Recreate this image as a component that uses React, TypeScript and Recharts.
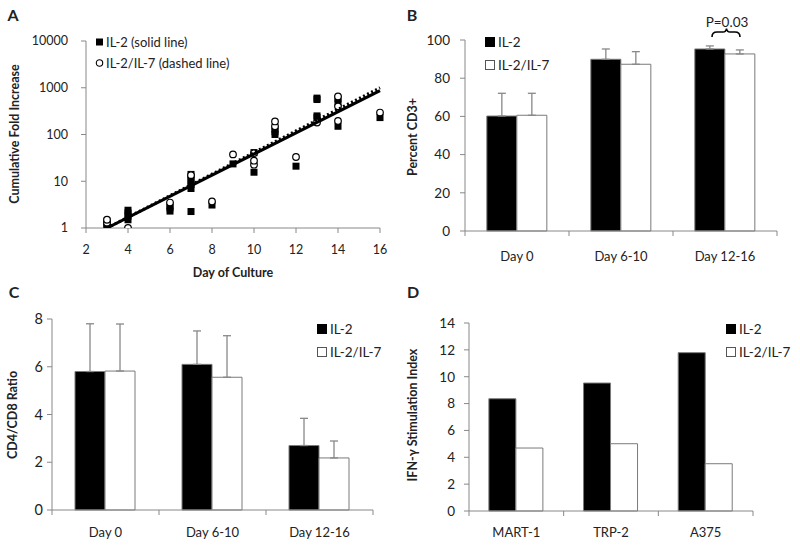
import React from 'react'
import {
  ScatterChart, Scatter, BarChart, Bar, XAxis, YAxis, ErrorBar, Legend,
} from 'recharts'

const font = 'Lato, "Open Sans", sans-serif'
const ink = '#222'
const axisGray = '#888'
const barEdge = '#7a7a7a'

// ── A: cumulative fold increase ──
const il2Points = [
  { day: 3, fold: 1.0 }, { day: 3, fold: 1.1 }, { day: 3, fold: 1.25 }, { day: 3, fold: 1.4 },
  { day: 4, fold: 1.5 }, { day: 4, fold: 1.8 }, { day: 4, fold: 2.1 }, { day: 4, fold: 2.4 },
  { day: 6, fold: 2.3 }, { day: 6, fold: 2.7 }, { day: 6, fold: 3.0 },
  { day: 7, fold: 2.25 }, { day: 7, fold: 7 }, { day: 7, fold: 8.5 }, { day: 7, fold: 10 },
  { day: 7, fold: 12 }, { day: 7, fold: 14 },
  { day: 8, fold: 3.1 },
  { day: 9, fold: 23.5 },
  { day: 10, fold: 15.6 }, { day: 10, fold: 41 },
  { day: 11, fold: 100 }, { day: 11, fold: 115 }, { day: 11, fold: 130 },
  { day: 12, fold: 21 },
  { day: 13, fold: 230 }, { day: 13, fold: 250 }, { day: 13, fold: 560 }, { day: 13, fold: 600 },
  { day: 14, fold: 150 }, { day: 14, fold: 480 }, { day: 14, fold: 580 },
  { day: 16, fold: 230 },
]
const il7Points = [
  { day: 3, fold: 1.3 }, { day: 3, fold: 1.5 },
  { day: 4, fold: 1.0 },
  { day: 6, fold: 3.5 },
  { day: 7, fold: 13.5 },
  { day: 8, fold: 3.7 },
  { day: 9, fold: 37.5 },
  { day: 10, fold: 22.6 }, { day: 10, fold: 27.5 }, { day: 10, fold: 40 },
  { day: 11, fold: 150 }, { day: 11, fold: 190 },
  { day: 12, fold: 33 },
  { day: 13, fold: 180 },
  { day: 14, fold: 195 }, { day: 14, fold: 400 }, { day: 14, fold: 650 },
  { day: 16, fold: 295 },
]
// trend line end points
const solidFit  = [{ day: 3, fold: 1.0 }, { day: 16, fold: 870 }]
const dashedFit = [{ day: 3, fold: 1.0 }, { day: 16, fold: 1000 }]
const dayTicks  = [2, 4, 6, 8, 10, 12, 14, 16]
const foldTicks = [1, 10, 100, 1000, 10000]

// ── B: percent CD3+ ──
const timeGroups = ['Day 0', 'Day 6-10', 'Day 12-16']
const cd3Il2     = [60.2, 89.9, 95.3]
const cd3Il2Err  = [11.9, 5.4, 1.6]
const cd3Il7     = [60.6, 87.3, 92.7]
const cd3Il7Err  = [11.5, 6.6, 2.1]
const cd3Ticks   = [0, 20, 40, 60, 80, 100]

// ── C: CD4/CD8 ratio ──
const ratioIl2    = [5.8, 6.1, 2.7]
const ratioIl2Err = [2.0, 1.4, 1.14]
const ratioIl7    = [5.82, 5.56, 2.18]
const ratioIl7Err = [1.97, 1.74, 0.71]
const ratioTicks  = [0, 2, 4, 6, 8]

// ── D: IFN-γ stimulation index ──
const targets   = ['MART-1', 'TRP-2', 'A375']
const ifnIl2    = [8.36, 9.53, 11.79]
const ifnIl7    = [4.69, 5.01, 3.52]
const ifnTicks  = [0, 2, 4, 6, 8, 10, 12, 14]

const cd3Rows = timeGroups.map((cat, i) => ({
  cat, il2: cd3Il2[i], il7: cd3Il7[i], il2Err: [0, cd3Il2Err[i]], il7Err: [0, cd3Il7Err[i]],
}))
const ratioRows = timeGroups.map((cat, i) => ({
  cat, il2: ratioIl2[i], il7: ratioIl7[i], il2Err: [0, ratioIl2Err[i]], il7Err: [0, ratioIl7Err[i]],
}))
const ifnRows = targets.map((cat, i) => ({ cat, il2: ifnIl2[i], il7: ifnIl7[i] }))

const Square = (p: any) => <rect x={p.cx - 3.5} y={p.cy - 3.5} width={7} height={7} fill="#000" />
const Ring   = (p: any) => <circle cx={p.cx} cy={p.cy} r={3.3} fill="#fff" stroke="#000" strokeWidth={1.2} />
const Nothing = () => <g />

const tickStyle = (size: number) => ({ fill: ink, fontSize: size, fontFamily: font })

// category tick: label in the middle, tick marks on the band edges (Excel style)
function CatTick(p: any) {
  const off = p.payload?.offset ?? 0
  const axisY = p.y - p.drop
  const last = p.index === p.visibleTicksCount - 1
  return (
    <g>
      <line x1={p.x - off} x2={p.x - off} y1={axisY} y2={axisY + 5} stroke={axisGray} />
      {last && <line x1={p.x + off} x2={p.x + off} y1={axisY} y2={axisY + 5} stroke={axisGray} />}
      <text x={p.x} y={p.y} dy="0.71em" textAnchor="middle" fill={ink} fontSize={p.size} fontFamily={font}>
        {p.payload.value}
      </text>
    </g>
  )
}

function overlay(text: string, x: number, y: number, size: number, bold = false, rotate = false) {
  return (
    <div
      style={{
        position: 'absolute', left: x, top: y, whiteSpace: 'nowrap',
        transform: `translate(-50%, -50%)${rotate ? ' rotate(-90deg)' : ''}`,
        fontFamily: font, fontSize: size, fontWeight: bold ? 700 : 400, color: ink, lineHeight: 1,
      }}
    >
      {text}
    </div>
  )
}

function BarLegend({ size }: { size: number }) {
  const entries = [{ name: 'IL-2', fill: '#000' }, { name: 'IL-2/IL-7', fill: '#fff' }]
  return (
    <div style={{ fontFamily: font, fontSize: size, color: ink }}>
      {entries.map((e) => (
        <div key={e.name} style={{ display: 'flex', alignItems: 'center', height: 23 }}>
          <span style={{ width: 8, height: 8, background: e.fill, border: `1px solid ${e.fill === '#000' ? '#000' : '#555'}`, marginRight: 3 }} />
          {e.name}
        </div>
      ))}
    </div>
  )
}

function ScatterLegend() {
  return (
    <div style={{ fontFamily: font, fontSize: 13, color: ink }}>
      <div style={{ display: 'flex', alignItems: 'center', height: 21 }}>
        <svg width={12} height={10}><rect x={2} y={1.5} width={7} height={7} fill="#000" /></svg>
        IL-2 (solid line)
      </div>
      <div style={{ display: 'flex', alignItems: 'center', height: 21 }}>
        <svg width={12} height={10}><circle cx={5.5} cy={5} r={3.2} fill="#fff" stroke="#000" strokeWidth={1.1} /></svg>
        IL-2/IL-7 (dashed line)
      </div>
    </div>
  )
}

function GroupedBars({
  rows, ticks, domain, margin, yWidth, yTickSize, yTickMargin, xTickSize, xTickMargin,
  gap, errors, legendPos,
}: any) {
  const drop = xTickMargin + 5
  return (
    <BarChart width={400} height={275} data={rows} margin={margin} barCategoryGap={gap} barGap={0}>
      <XAxis
        dataKey="cat" tickLine={false} tickSize={0} tickMargin={drop} axisLine={{ stroke: axisGray }}
        tick={(p: any) => <CatTick {...p} size={xTickSize} drop={drop} />} height={30} interval={0}
      />
      <YAxis
        width={yWidth} domain={domain} ticks={ticks} interval={0}
        axisLine={{ stroke: axisGray }} tickLine={{ stroke: axisGray }} tickSize={5}
        tickMargin={yTickMargin} tick={tickStyle(yTickSize)}
      />
      <Legend
        layout="vertical" align="center" verticalAlign="middle" content={() => <BarLegend size={13.5} />}
        wrapperStyle={{ left: legendPos[0], top: legendPos[1], width: 90 }}
      />
      <Bar dataKey="il2" name="IL-2" fill="#000" stroke={barEdge} strokeWidth={1} isAnimationActive={false}>
        {errors && <ErrorBar dataKey="il2Err" direction="y" width={4} stroke={axisGray} strokeWidth={1.3} />}
      </Bar>
      <Bar dataKey="il7" name="IL-2/IL-7" fill="#fff" stroke={barEdge} strokeWidth={1} isAnimationActive={false}>
        {errors && <ErrorBar dataKey="il7Err" direction="y" width={4} stroke={axisGray} strokeWidth={1.3} />}
      </Bar>
    </BarChart>
  )
}

export default function App() {
  return (
    <div style={{ position: 'absolute', left: 0, top: 0, width: 800, height: 550, background: '#fff' }}>
      {/* ── A ── */}
      <div style={{ position: 'absolute', left: 0, top: 0 }}>
        <ScatterChart width={400} height={275} margin={{ top: 41, right: 20, bottom: 17, left: 36 }}>
          <XAxis
            dataKey="day" type="number" domain={[2, 16]} ticks={dayTicks} interval={0}
            axisLine={{ stroke: axisGray }} tickLine={{ stroke: axisGray }} tickSize={5}
            tickMargin={12} tick={tickStyle(12.5)} height={30}
          />
          <YAxis
            dataKey="fold" type="number" scale="log" domain={[1, 10000]} ticks={foldTicks}
            interval={0} allowDataOverflow width={50}
            axisLine={{ stroke: axisGray }} tickLine={{ stroke: axisGray }} tickSize={5}
            tickMargin={13} tick={tickStyle(12.5)}
          />
          <Legend
            layout="vertical" align="center" verticalAlign="middle" content={() => <ScatterLegend />}
            wrapperStyle={{ left: 94, top: 31, width: 200 }}
          />
          <Scatter data={il2Points} shape={Square} name="IL-2 (solid line)" isAnimationActive={false} />
          <Scatter data={il7Points} shape={Ring} name="IL-2/IL-7 (dashed line)" isAnimationActive={false} />
          <Scatter
            data={dashedFit} shape={Nothing} legendType="none" isAnimationActive={false}
            line={{ stroke: '#000', strokeWidth: 3, strokeDasharray: '2 2.5' }}
          />
          <Scatter
            data={solidFit} shape={Nothing} legendType="none" isAnimationActive={false}
            line={{ stroke: '#000', strokeWidth: 3 }}
          />
        </ScatterChart>
      </div>

      {/* ── B ── */}
      <div style={{ position: 'absolute', left: 400, top: 0 }}>
        <GroupedBars
          rows={cd3Rows} ticks={cd3Ticks} domain={[0, 100]}
          margin={{ top: 40, right: 23, bottom: 14, left: 25 }} yWidth={40}
          yTickSize={13.5} yTickMargin={10} xTickSize={13} xTickMargin={16}
          gap="21%" errors legendPos={[85, 30]}
        />
      </div>

      {/* ── C ── */}
      <div style={{ position: 'absolute', left: 0, top: 275 }}>
        <GroupedBars
          rows={ratioRows} ticks={ratioTicks} domain={[0, 8]}
          margin={{ top: 44, right: 27, bottom: 10, left: 22 }} yWidth={30}
          yTickSize={14.5} yTickMargin={4} xTickSize={13} xTickMargin={13}
          gap="21.5%" errors legendPos={[317, 42]}
        />
      </div>

      {/* ── D ── */}
      <div style={{ position: 'absolute', left: 400, top: 275 }}>
        <GroupedBars
          rows={ifnRows} ticks={ifnTicks} domain={[0, 14]}
          margin={{ top: 48, right: 47, bottom: 9, left: 29 }} yWidth={40}
          yTickSize={13.5} yTickMargin={9} xTickSize={13} xTickMargin={12}
          gap="21%" errors={false} legendPos={[326, 42]}
        />
      </div>

      {/* panel letters and axis titles */}
      {overlay('A', 13, 15, 16, true)}
      {overlay('B', 412, 15, 16, true)}
      {overlay('C', 14, 292, 16, true)}
      {overlay('D', 413, 292, 16, true)}
      {overlay('Cumulative Fold Increase', 15, 134, 12.5, true, true)}
      {overlay('Day of Culture', 233, 273, 12.5, true)}
      {overlay('Percent CD3+', 413, 137, 12.5, true, true)}
      {overlay('CD4/CD8 Ratio', 13, 415, 12.5, true, true)}
      {overlay('IFN-γ Stimulation Index', 413, 415, 12.5, true, true)}
      {overlay('P=0.03', 727, 23, 13.5)}
      <svg style={{ position: 'absolute', left: 0, top: 0 }} width={800} height={550} pointerEvents="none">
        <path
          d="M712,37 Q712,32 717,32 L723,32 Q726,32 726.5,28.5 Q727,32 730,32 L735,32 Q740,32 740,37"
          fill="none" stroke="#000" strokeWidth={1.6}
        />
      </svg>
    </div>
  )
}
